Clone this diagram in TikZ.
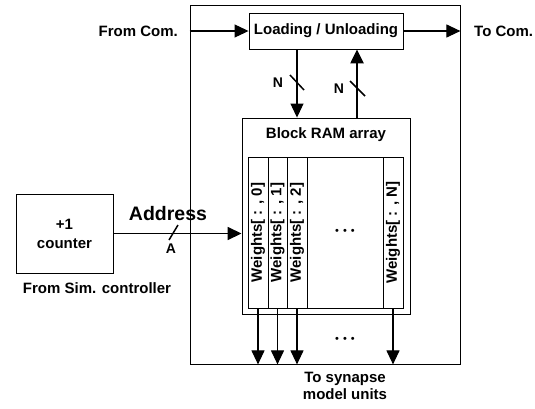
\documentclass[tikz,border=0pt]{standalone}
\usepackage{fontspec}
\setmainfont{Liberation Sans}
\usetikzlibrary{arrows.meta,calc}
\begin{document}
\begin{tikzpicture}[x=1pt,y=-1pt,
  lbl/.style={font=\fontsize{15}{17}\selectfont\bfseries, inner sep=0pt},
  small/.style={font=\fontsize{14}{16}\selectfont\bfseries, inner sep=0pt},
  dots/.style={font=\fontsize{11}{12}\selectfont, inner sep=0pt},
  box/.style={draw, line width=0.9pt, inner sep=0pt},
  col/.style={draw, line width=0.8pt, rotate=90, minimum width=151pt, inner sep=0pt,
    font=\fontsize{15}{16}\selectfont\bfseries},
  arr/.style={line width=1.1pt, -{Triangle[length=14pt,width=13pt]}},
  thickarr/.style={line width=2.4pt, -{Triangle[length=14pt,width=13pt]}},
  slash/.style={line width=1.5pt}]
\useasboundingbox (0,0) rectangle (535,408);
% outer frame
\node[box, line width=0.8pt, minimum width=270pt, minimum height=359pt] (outer) at (325,184.5) {};
% loading box
\node[box, minimum width=154pt, minimum height=36pt, lbl] (load) at (326,31) {Loading / Unloading};
% block RAM
\node[box, minimum width=168pt, minimum height=196pt] (ram) at (326,216) {};
\node[lbl] (ramlbl) at (326,135) {Block RAM array};
\node[box, minimum width=155pt, minimum height=151pt] (inner) at (325.5,232.5) {};
\node[col, minimum height=20pt] (c0) at (258,232.5) {Weights[ : , 0]};
\node[col, minimum height=19pt] (c1) at (277.5,232.5) {Weights[ : , 1]};
\node[col, minimum height=20pt] (c2) at (297,232.5) {Weights[ : , 2]};
\node[col, minimum height=20pt] (cN) at (393,232.5) {Weights[ : , N]};
\node[dots] (dots1) at (345,232) {\textbullet\hspace{4pt}\textbullet\hspace{4pt}\textbullet};
% counter
\node[box, minimum width=97pt, minimum height=79pt, align=center, lbl] (counter) at (64.5,233.5) {+1\\[2pt]counter};
\node[lbl] (sim) at (97,288) {From Sim. controller};
% external labels
\node[lbl, anchor=east] (from) at (178,31) {From Com.};
\node[lbl, anchor=west] (to) at (474,31) {To Com.};
\node[lbl] (syn) at (345,388) {\begin{tabular}{@{}c@{}}To synapse\\[0pt] model units\end{tabular}};
\node[font=\fontsize{19.5}{22}\selectfont\bfseries, inner sep=0pt] (addr) at (168,214) {Address};
\node[small] (alab) at (171,249) {A};
\node[small] (n1) at (278,83) {N};
\node[small] (n2) at (339,89) {N};
\node[dots] (dots2) at (345,340) {\textbullet\hspace{4pt}\textbullet\hspace{4pt}\textbullet};
% coordinates for connectors
\coordinate (dnx) at (297,0);
\coordinate (upx) at (357,0);
% connectors
\draw[arr] (load.west -| outer.west) -- (load.west);
\draw[arr] (load.east) -- (load.east -| outer.east);
\draw[arr] (load.south -| dnx) -- (ram.north -| dnx);
\draw[thickarr] (ram.north -| upx) -- (load.south -| upx);
\draw[arr, line width=1.6pt] (counter.east) -- (counter.east -| ram.west);
\foreach \c in {c0,c1,c2,cN}{
  \draw[arr] (\c.west) -- (\c.west |- outer.south);
}
% bus slashes
\draw[slash] (290,75) -- (304,90);
\draw[slash] (350,81) -- (365,96);
\draw[slash] (169,240) -- (178,225);
\end{tikzpicture}
\end{document}
